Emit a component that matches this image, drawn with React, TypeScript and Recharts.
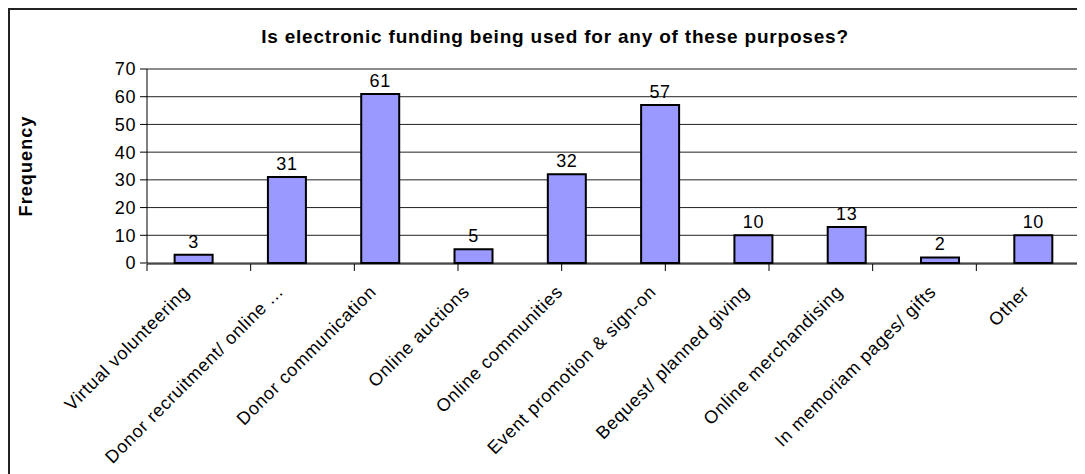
import { BarChart, Bar, XAxis, YAxis, CartesianGrid, LabelList, ReferenceLine } from 'recharts';

const categories = [
  'Virtual volunteering',
  'Donor recruitment/ online ...',
  'Donor communication',
  'Online auctions',
  'Online communities',
  'Event promotion & sign-on',
  'Bequest/ planned giving',
  'Online merchandising',
  'In memoriam pages/ gifts',
  'Other',
];
const frequency = [3, 31, 61, 5, 32, 57, 10, 13, 2, 10];
const yTicks = [0, 10, 20, 30, 40, 50, 60, 70];
const boundaryTicks = [0, 1, 2, 3, 4, 5, 6, 7, 8, 9, 10];

const FONT = '"Liberation Sans", Arial, sans-serif';

const chartData = categories.map((name, i) => ({ name, value: frequency[i] }));

// rotated category labels, end of text sits just under the category centre
function CategoryTick({ x, y, payload }: any) {
  return (
    <text
      transform={`translate(${x - 3},${y + 22}) rotate(-45)`}
      textAnchor="end"
      fontSize={18}
      letterSpacing={0.7}
      fontFamily={FONT}
      fill="#000"
    >
      {payload.value}
    </text>
  );
}

const EmptyTick = () => <g />;

export default function App() {
  return (
    <div
      style={{
        position: 'relative',
        width: 1077,
        height: 466,
        borderTop: '2px solid #222',
        borderLeft: '2px solid #222',
        fontFamily: FONT,
        boxSizing: 'border-box',
        overflow: 'hidden',
      }}
    >
      <div
        style={{
          position: 'absolute',
          left: 0,
          width: 1090,
          top: 16,
          textAlign: 'center',
          fontWeight: 700,
          fontSize: 19,
          letterSpacing: 0.8,
          color: '#000',
        }}
      >
        Is electronic funding being used for any of these purposes?
      </div>
      <div
        style={{
          position: 'absolute',
          left: 16 - 60,
          top: 156 - 10,
          width: 120,
          textAlign: 'center',
          transform: 'rotate(-90deg)',
          fontWeight: 700,
          fontSize: 18,
          letterSpacing: 1.1,
          lineHeight: '20px',
          color: '#000',
        }}
      >
        Frequency
      </div>
      <BarChart
        width={1075}
        height={464}
        data={chartData}
        margin={{ top: 59, right: 5, left: 0, bottom: 209 }}
        barCategoryGap="29.6%"
      >
        <CartesianGrid vertical={false} stroke="#222" strokeWidth={1} />
        <XAxis
          dataKey="name"
          height={1}
          interval={0}
          tick={CategoryTick}
          tickLine={false}
          axisLine={false}
        />
        <XAxis
          xAxisId="bounds"
          type="number"
          domain={[0, 10]}
          ticks={boundaryTicks}
          height={1}
          tick={EmptyTick}
          tickSize={7}
          tickLine={{ stroke: '#000' }}
          axisLine={{ stroke: '#000' }}
          allowDataOverflow
        />
        <YAxis
          width={137}
          domain={[0, 70]}
          ticks={yTicks}
          interval={0}
          tickSize={7}
          tickMargin={4}
          tickLine={{ stroke: '#000' }}
          axisLine={{ stroke: '#000' }}
          tick={{ fontSize: 18, fill: '#000', fontFamily: FONT, letterSpacing: 0.6 }}
        />
        <ReferenceLine y={70} stroke="#888" />
        <ReferenceLine x={10} xAxisId="bounds" stroke="#888" />
        <Bar dataKey="value" fill="#9999FF" stroke="#000" strokeWidth={2} isAnimationActive={false}>
          <LabelList
            dataKey="value"
            position="top"
            offset={7}
            fontSize={18}
            letterSpacing={0.6}
            fill="#000"
            fontFamily={FONT}
          />
        </Bar>
      </BarChart>
    </div>
  );
}
